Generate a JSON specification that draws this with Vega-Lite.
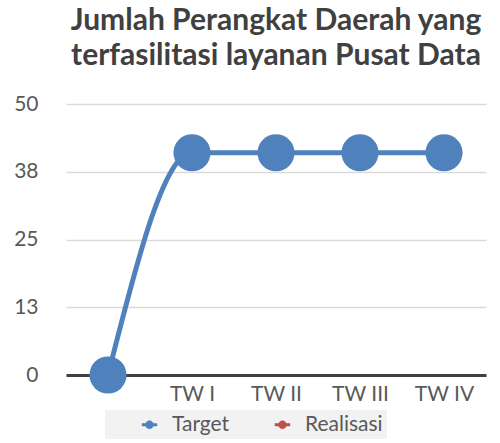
{
  "$schema": "https://vega.github.io/schema/vega-lite/v6.json",
  "width": 420,
  "height": 271,
  "autosize": "none",
  "padding": {"left": 66, "top": 104, "right": 14, "bottom": 68},
  "background": "white",
  "config": {
    "font": "Lato",
    "view": {"stroke": null}
  },
  "title": {
    "text": ["Jumlah Perangkat Daerah yang", "terfasilitasi layanan Pusat Data"],
    "font": "Lato",
    "fontSize": 30,
    "fontWeight": "bold",
    "color": "#404040",
    "anchor": "middle",
    "lineHeight": 35,
    "offset": 22
  },
  "data": {
    "values": [
      {"q": " ", "series": "Target", "value": 0},
      {"q": "TW I", "series": "Target", "value": 41},
      {"q": "TW II", "series": "Target", "value": 41},
      {"q": "TW III", "series": "Target", "value": 41},
      {"q": "TW IV", "series": "Target", "value": 41}
    ]
  },
  "encoding": {
    "x": {
      "field": "q",
      "type": "ordinal",
      "sort": null,
      "scale": {"type": "point", "padding": 0.5},
      "axis": {
        "title": null,
        "labelAngle": 0,
        "labelFontSize": 21,
        "labelColor": "#595959",
        "labelPadding": 8,
        "ticks": false,
        "domainColor": "#404040",
        "domainWidth": 3,
        "grid": false
      }
    },
    "y": {
      "field": "value",
      "type": "quantitative",
      "scale": {"domain": [0, 50], "nice": false},
      "axis": {
        "title": null,
        "values": [0, 12.5, 25, 37.5, 50],
        "format": ".0f",
        "labelFontSize": 21,
        "labelColor": "#595959",
        "labelPadding": 28,
        "ticks": false,
        "domain": false,
        "gridColor": "#d9d9d9",
        "gridWidth": 1.5
      }
    }
  },
  "layer": [
    {
      "mark": {"type": "line", "interpolate": "monotone", "strokeWidth": 5},
      "encoding": {
        "stroke": {
          "field": "series",
          "type": "nominal",
          "scale": {"domain": ["Target", "Realisasi"], "range": ["#4f81bd", "#c0504d"]},
          "legend": {
            "title": null,
            "orient": "none",
            "direction": "horizontal",
            "legendX": 39,
            "legendY": 306,
            "fillColor": "#f2f2f2",
            "padding": 4,
            "columnPadding": 12,
            "symbolOffset": 30,
            "labelFontSize": 21,
            "labelColor": "#595959",
            "labelOffset": 12,
            "symbolType": "M-1,-0.17H1V0.17H-1Z M-0.54,0A0.54,0.54,0,1,1,0.54,0A0.54,0.54,0,1,1,-0.54,0Z",
            "symbolSize": 225,
            "symbolStrokeWidth": 0.5,
            "symbolOpacity": 1
          }
        }
      }
    },
    {
      "mark": {"type": "point", "filled": true, "size": 1380, "opacity": 1},
      "encoding": {
        "fill": {
          "field": "series",
          "type": "nominal",
          "scale": {"domain": ["Target", "Realisasi"], "range": ["#4f81bd", "#c0504d"]},
          "legend": null
        }
      }
    }
  ]
}
